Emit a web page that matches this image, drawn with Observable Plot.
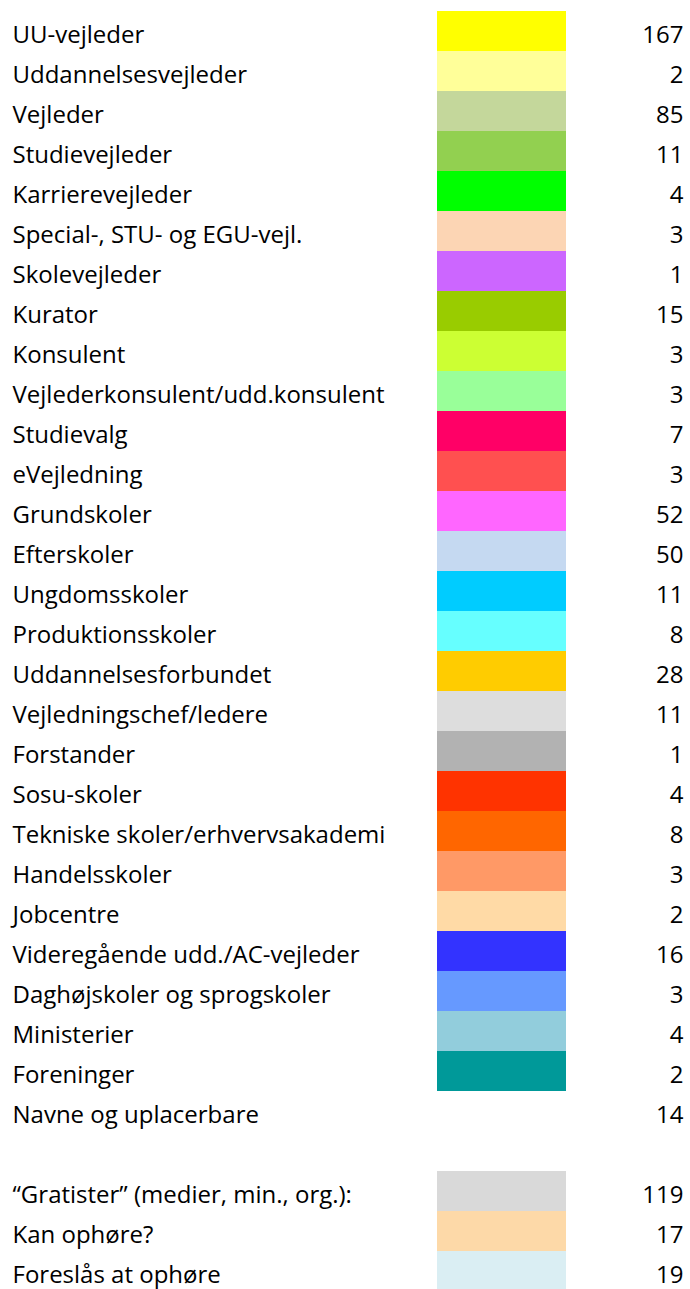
<!DOCTYPE html>
<html>
<head>
<meta charset="utf-8">
<script src="https://cdn.jsdelivr.net/npm/d3@7"></script>
<script src="https://cdn.jsdelivr.net/npm/@observablehq/plot@0.6"></script>
<style>
  html, body { margin: 0; padding: 0; background: #fff; }
  #chart svg { display: block; }
</style>
</head>
<body>
<div id="chart"></div>
<script>
const categories = [
  "UU-vejleder", "Uddannelsesvejleder", "Vejleder", "Studievejleder", "Karrierevejleder",
  "Special-, STU- og EGU-vejl.", "Skolevejleder", "Kurator", "Konsulent",
  "Vejlederkonsulent/udd.konsulent", "Studievalg", "eVejledning", "Grundskoler",
  "Efterskoler", "Ungdomsskoler", "Produktionsskoler", "Uddannelsesforbundet",
  "Vejledningschef/ledere", "Forstander", "Sosu-skoler", "Tekniske skoler/erhvervsakademi",
  "Handelsskoler", "Jobcentre", "Videregående udd./AC-vejleder", "Daghøjskoler og sprogskoler",
  "Ministerier", "Foreninger", "Navne og uplacerbare"
];
const counts = [167, 2, 85, 11, 4, 3, 1, 15, 3, 3, 7, 3, 52, 50, 11, 8, 28, 11, 1, 4, 8, 3, 2, 16, 3, 4, 2, 14];
const colors = [
  "#FFFF00", "#FFFF99", "#C4D79B", "#92D050", "#00FF00", "#FCD5B4", "#CC66FF", "#99CC00",
  "#CCFF33", "#99FF99", "#FF0066", "#FF5050", "#FF66FF", "#C5D9F1", "#00CCFF", "#66FFFF",
  "#FFCC00", "#DDDDDD", "#B2B2B2", "#FF3300", "#FF6600", "#FF9966", "#FFDAA6", "#3333FF",
  "#6699FF", "#92CDDC", "#009999", null
];

const summaryLabels = ["\u201cGratister\u201d (medier, min., org.):", "Kan ophøre?", "Foreslås at ophøre"];
const summaryCounts = [119, 17, 19];
const summaryColors = ["#D9D9D9", "#FDD9A8", "#DAEEF3"];

const spacer = " ";
const rows = [
  ...categories.map((label, i) => ({label, value: counts[i], color: colors[i]})),
  ...summaryLabels.map((label, i) => ({label, value: summaryCounts[i], color: summaryColors[i]}))
];
const yDomain = [...categories, spacer, ...summaryLabels];

const W = 690, H = 1289;
const rowH = 40.04;
const firstRowTop = 10;

const fontFamily = "'Open Sans', sans-serif";
const fs = 24;

const plot = Plot.plot({
  width: W,
  height: H,
  margin: 0,
  style: {fontFamily, fontSize: fs + "px", color: "#000", background: "#fff"},
  x: {type: "band", domain: ["swatch"], range: [437, 566], padding: 0, axis: null},
  y: {type: "band", domain: yDomain, range: [firstRowTop, firstRowTop + yDomain.length * rowH], padding: 0, axis: null},
  marks: [
    Plot.cell(rows.filter(d => d.color), {x: () => "swatch", y: "label", fill: "color", inset: 0}),
    Plot.text(rows, {y: "label", text: "label", frameAnchor: "left", textAnchor: "start", dx: 12, dy: 4.3,
      fill: "#000", fontSize: fs}),
    Plot.text(rows, {y: "label", text: d => String(d.value), frameAnchor: "right", textAnchor: "end", dx: -7, dy: 4.3,
      fill: "#000", fontSize: fs})
  ]
});
document.getElementById("chart").appendChild(plot);
</script>
</body>
</html>
